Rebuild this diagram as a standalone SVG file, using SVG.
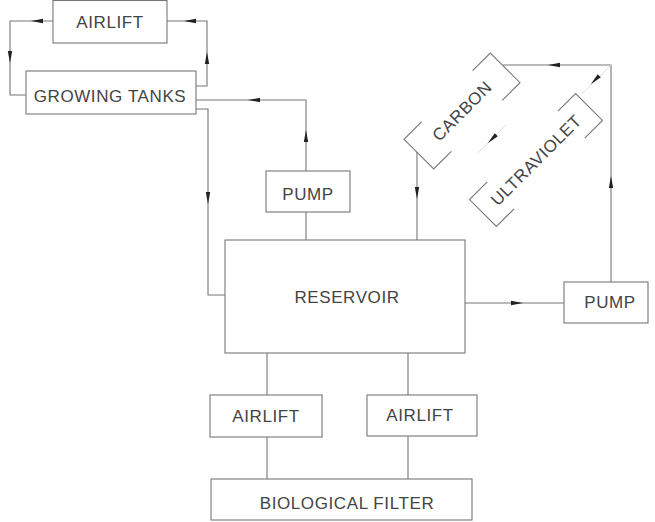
<svg xmlns="http://www.w3.org/2000/svg" xmlns:xlink="http://www.w3.org/1999/xlink" width="655" height="522" viewBox="0 0 655 522">
<style>
.box{fill:none;stroke:#777;stroke-width:1.1}
.ln{fill:none;stroke:#777;stroke-width:1.1}
.faint{fill:none;stroke:#ddd;stroke-width:1}
.lbl{font-family:"Liberation Sans",Arial,sans-serif;font-size:17px;fill:#444;text-anchor:middle;letter-spacing:0.6px}
.ah{fill:#222}
</style>
<defs>
<path id="ah" d="M-6,-2.2 L6,0 L-6,2.2 Z"/>
</defs>
<rect width="655" height="522" fill="#fff"/>
<g id="airlift-top"><rect class="box" x="53" y="0.5" width="114" height="42.5"/><text class="lbl" x="110" y="28">AIRLIFT</text></g>
<g id="growing-tanks"><rect class="box" x="26" y="71" width="170" height="43"/><text class="lbl" x="110" y="102">GROWING TANKS</text></g>
<g id="pump-top"><rect class="box" x="266" y="171" width="84" height="41"/><text class="lbl" x="308" y="200">PUMP</text></g>
<g id="reservoir"><rect class="box" x="225" y="240" width="240" height="113"/><text class="lbl" x="347" y="303">RESERVOIR</text></g>
<g id="pump-right"><rect class="box" x="564" y="282" width="84" height="41"/><text class="lbl" x="610" y="308">PUMP</text></g>
<g id="airlift-left"><rect class="box" x="210" y="395" width="112" height="42"/><text class="lbl" x="266" y="422">AIRLIFT</text></g>
<g id="airlift-right"><rect class="box" x="367" y="395" width="110" height="41"/><text class="lbl" x="420" y="421">AIRLIFT</text></g>
<g id="biological-filter"><rect class="box" x="211" y="479" width="261" height="41"/><text class="lbl" x="347" y="509">BIOLOGICAL FILTER</text></g>
<g id="carbon" transform="translate(462,111) rotate(-45)"><path class="box" d="M-36,-21 H-61 V21 H-36 M36,-21 H61 V21 H36"/><text class="lbl" x="0" y="6">CARBON</text></g>
<g id="ultraviolet" transform="translate(536,160) rotate(-45)"><path class="box" d="M-50,-19 H-75 V19 H-50 M50,-19 H75 V19 H50"/><text class="lbl" x="0" y="6">ULTRAVIOLET</text></g>
<g id="connectors">
<path class="ln" d="M53,21 H10 V95 H26"/>
<path class="ln" d="M196,86 H207 V21 H167"/>
<path class="ln" d="M306,171 V100 H196"/>
<path class="ln" d="M306,212 V240"/>
<path class="ln" d="M196,109 H208 V295 H225"/>
<path class="ln" d="M465,303 H564"/>
<path class="ln" d="M611,282 V65 H503"/>
<path class="faint" d="M611,65 L582,94"/>
<path class="faint" d="M506,125 L478,153"/>
<path class="ln" d="M417,152 V240"/>
<path class="ln" d="M267,353 V395 M267,437 V479"/>
<path class="ln" d="M408,353 V395 M408,436 V479"/>
<use class="ah" xlink:href="#ah" transform="translate(37,21) rotate(180)"/>
<use class="ah" xlink:href="#ah" transform="translate(10,57) rotate(90)"/>
<use class="ah" xlink:href="#ah" transform="translate(207,58) rotate(-90)"/>
<use class="ah" xlink:href="#ah" transform="translate(190,21) rotate(180)"/>
<use class="ah" xlink:href="#ah" transform="translate(306,136) rotate(-90)"/>
<use class="ah" xlink:href="#ah" transform="translate(254,100) rotate(180)"/>
<use class="ah" xlink:href="#ah" transform="translate(208,198) rotate(90)"/>
<use class="ah" xlink:href="#ah" transform="translate(517,303)"/>
<use class="ah" xlink:href="#ah" transform="translate(611,182) rotate(-90)"/>
<use class="ah" xlink:href="#ah" transform="translate(554,65) rotate(180)"/>
<use class="ah" xlink:href="#ah" transform="translate(595,80) rotate(135)"/>
<use class="ah" xlink:href="#ah" transform="translate(492,139) rotate(135)"/>
<use class="ah" xlink:href="#ah" transform="translate(417,193) rotate(90)"/>
</g>
</svg>
